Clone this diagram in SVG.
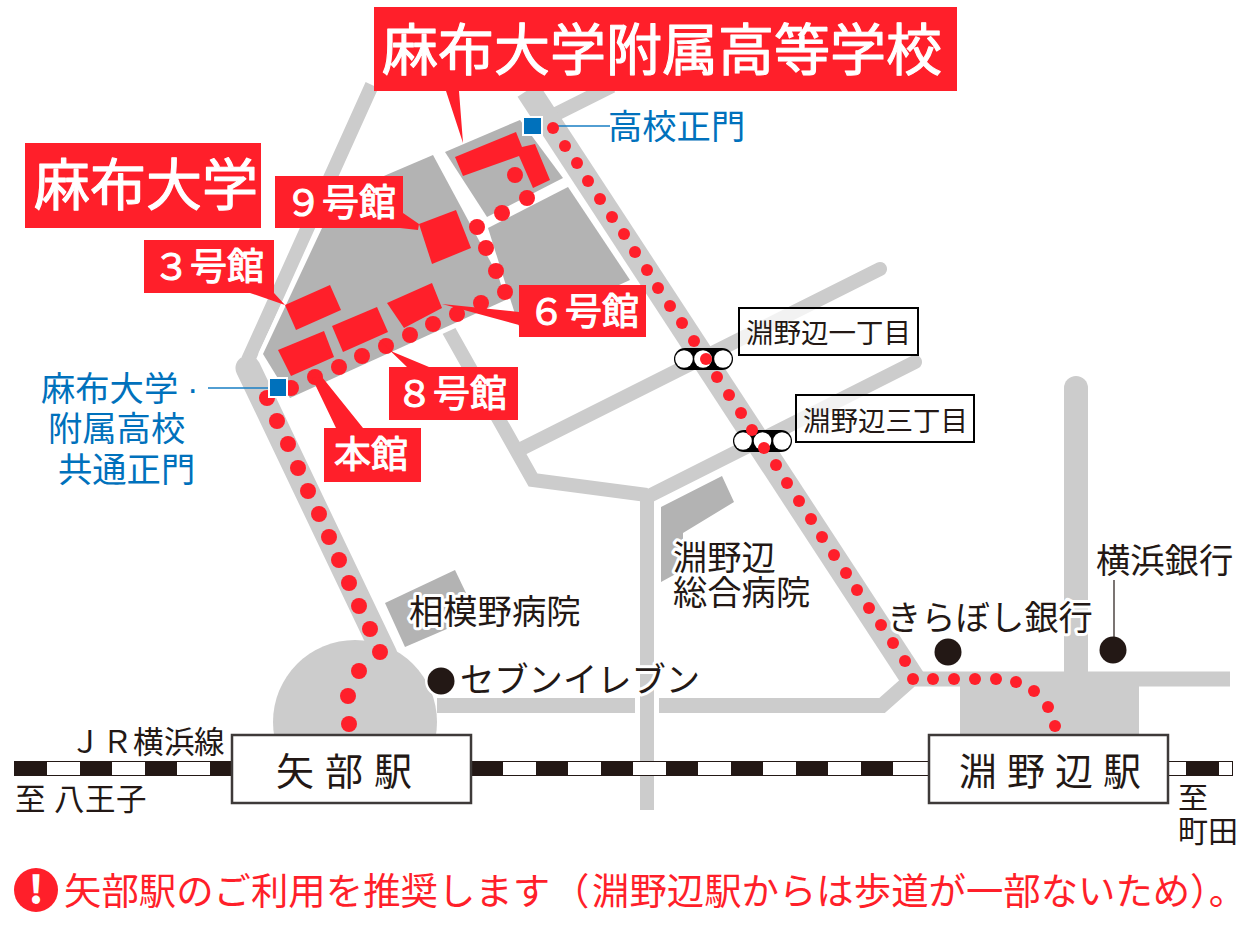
<svg xmlns="http://www.w3.org/2000/svg" width="1251" height="939" viewBox="0 0 1251 939">
<style>
text{font-family:"Noto Sans CJK JP","Noto Sans",sans-serif;fill:#231815}
.road{fill:none;stroke:#ccc;stroke-linejoin:miter}
.block{fill:#b3b3b3}
.red{fill:#ff1f2a}
.wt{fill:#fff;font-weight:400;stroke:#fff;stroke-width:1.1px;stroke-linejoin:round}
.blue{fill:#0071bc;font-size:34.3px}
.t34{font-size:34.3px}
.halo{paint-order:stroke;stroke:#fff;stroke-width:6px;stroke-linejoin:round}
.bluesq{fill:#0071bc;stroke:#fff;stroke-width:2}
.box{fill:#fff;fill-opacity:.75;stroke:#000;stroke-width:2}
.stn{fill:#fff;stroke:#3e3a39;stroke-width:2.5}
.d{fill:#ff1f2a}
.bk{fill:#231815}
.wh{fill:#fff}
</style>
<rect width="1251" height="939" fill="#fff"/>
<g id="roads">
<path class="road" stroke-width="14" stroke-linecap="round" d="M880 269L523 448"/>
<path class="road" stroke-width="14" stroke-linecap="round" d="M915 362L651 495"/>
<path class="road" stroke-width="14" d="M444 322L533 480L647 495M647 490V810"/>
<path class="road" stroke-width="15" d="M437 705.500H635M659 705.500H882L912 679H1230"/>
<path class="road" stroke-width="14" d="M248 360L372 85M548 118L612 86"/>
<path class="road" stroke-width="25" stroke-linejoin="round" stroke-linecap="round" d="M248 368L385 655"/>
<path class="road" stroke-width="25" d="M528 90L913 679"/>
<path class="road" stroke-width="24" stroke-linecap="round" d="M1076 388V680"/>
<circle cx="355" cy="722" r="82" fill="#ccc"/>
<rect x="960" y="680" width="179" height="60" fill="#ccc"/>
</g>
<g id="campus">
<path d="M263 354L337 196L433 155L510 298L292 398L272 370Z" fill="#fff" stroke="#fff" stroke-width="9" stroke-linejoin="round"/>
<path class="block" d="M263 354L337 196L433 155L510 298L290 398Z"/>
<path d="M445 152L520 120L563 178L487 217Z" fill="#fff" stroke="#fff" stroke-width="9"/>
<path class="block" d="M445 152L520 120L563 178L487 217Z"/>
<path d="M488 228L568 187L630 280L520 330Z" fill="#fff" stroke="#fff" stroke-width="9"/>
<path class="block" d="M488 228L568 187L630 280L520 330Z"/>
</g>
<g id="hospitals">
<path class="block" d="M385 603L455 570L477 616L405 647Z"/>
<path class="block" d="M661 507L722 476L734 502L683 533V570L661 582Z"/>
</g>
<g id="buildings">
<path class="red" d="M419 224L456 210L471 248L432 264Z"/>
<path class="red" d="M285 305L330 285L341 310L296 330Z"/>
<path class="red" d="M278 350L324 331L334 357L291 376Z"/>
<path class="red" d="M332 326L377 307L388 332L343 352Z"/>
<path class="red" d="M387 303L432 283L442 308L404 328Z"/>
<path class="red" d="M455 157L516 132L522 147L535 144L550 180L533 188L519 156L463 176Z"/>
</g>
<g id="track">
<rect x="14" y="761" width="1219" height="15" class="bk"/>
<rect x="47" y="762" width="33" height="13" class="wh"/><rect x="112" y="762" width="33" height="13" class="wh"/><rect x="177" y="762" width="33" height="13" class="wh"/>
<rect x="503" y="762" width="33" height="13" class="wh"/><rect x="568" y="762" width="33" height="13" class="wh"/><rect x="633" y="762" width="33" height="13" class="wh"/><rect x="698" y="762" width="33" height="13" class="wh"/><rect x="763" y="762" width="33" height="13" class="wh"/><rect x="828" y="762" width="33" height="13" class="wh"/><rect x="893" y="762" width="35" height="13" class="wh"/>
<rect x="1169" y="762" width="17" height="13" class="wh"/><rect x="1219" y="762" width="13" height="13" class="wh"/>
</g>
<g id="signals">
<rect x="674" y="348" width="59" height="22" rx="11" fill="#000"/><circle cx="684" cy="359" r="8.800" class="wh"/><circle cx="703" cy="359" r="8.800" class="wh"/><circle cx="723" cy="359" r="8.800" class="wh"/>
<rect x="733" y="430" width="59" height="22" rx="11" fill="#000"/><circle cx="743" cy="441" r="8.800" class="wh"/><circle cx="762.500" cy="441" r="8.800" class="wh"/><circle cx="782" cy="441" r="8.800" class="wh"/>
</g>
<g id="connectors">
<path d="M553 126H610M208 388H272" fill="none" stroke="#1a7fc4" stroke-width="1.4"/>
<g id="route-campus">
<circle class="d" cx="515" cy="175" r="8"/><circle class="d" cx="527" cy="198" r="8"/><circle class="d" cx="502" cy="213" r="8"/><circle class="d" cx="477" cy="227" r="8"/><circle class="d" cx="486" cy="248" r="8"/><circle class="d" cx="496" cy="271" r="8"/><circle class="d" cx="505" cy="292" r="8"/><circle class="d" cx="481" cy="303" r="8"/><circle class="d" cx="457" cy="314" r="8"/><circle class="d" cx="433" cy="324" r="8"/><circle class="d" cx="410" cy="335" r="8"/><circle class="d" cx="386" cy="346" r="8"/><circle class="d" cx="362" cy="356" r="8"/><circle class="d" cx="339" cy="367" r="8"/><circle class="d" cx="315" cy="377" r="8"/><circle class="d" cx="291" cy="388" r="8"/><circle class="d" cx="267" cy="398" r="8"/>
<circle class="d" cx="277" cy="421" r="8"/><circle class="d" cx="288" cy="444" r="8"/><circle class="d" cx="298" cy="468" r="8"/><circle class="d" cx="308" cy="491" r="8"/><circle class="d" cx="319" cy="514" r="8"/><circle class="d" cx="329" cy="537" r="8"/><circle class="d" cx="339" cy="560" r="8"/><circle class="d" cx="349" cy="583" r="8"/><circle class="d" cx="359" cy="606" r="8"/><circle class="d" cx="370" cy="629" r="8"/><circle class="d" cx="380" cy="652" r="8"/><circle class="d" cx="359" cy="671" r="8"/><circle class="d" cx="348" cy="696" r="8"/><circle class="d" cx="349" cy="724" r="8"/>
</g>
<g id="route-east">
<circle class="d" cx="553" cy="128" r="6"/><circle class="d" cx="565" cy="146" r="6"/><circle class="d" cx="577" cy="163" r="6"/><circle class="d" cx="588" cy="181" r="6"/><circle class="d" cx="600" cy="199" r="6"/><circle class="d" cx="612" cy="217" r="6"/><circle class="d" cx="624" cy="234" r="6"/><circle class="d" cx="635" cy="252" r="6"/><circle class="d" cx="647" cy="270" r="6"/><circle class="d" cx="658" cy="288" r="6"/><circle class="d" cx="670" cy="306" r="6"/><circle class="d" cx="682" cy="323" r="6"/><circle class="d" cx="694" cy="341" r="6"/><circle class="d" cx="706" cy="359" r="6"/><circle class="d" cx="717" cy="377" r="6"/><circle class="d" cx="729" cy="395" r="6"/><circle class="d" cx="741" cy="413" r="6"/><circle class="d" cx="752" cy="430" r="6"/><circle class="d" cx="764" cy="448" r="6"/><circle class="d" cx="776" cy="465" r="6"/><circle class="d" cx="787" cy="483" r="6"/><circle class="d" cx="799" cy="501" r="6"/><circle class="d" cx="811" cy="519" r="6"/><circle class="d" cx="822" cy="537" r="6"/><circle class="d" cx="834" cy="555" r="6"/><circle class="d" cx="846" cy="573" r="6"/><circle class="d" cx="857" cy="590" r="6"/><circle class="d" cx="869" cy="608" r="6"/><circle class="d" cx="881" cy="625" r="6"/><circle class="d" cx="893" cy="643" r="6"/><circle class="d" cx="905" cy="661" r="6"/><circle class="d" cx="913" cy="679" r="6"/><circle class="d" cx="933" cy="679" r="6"/><circle class="d" cx="954" cy="679" r="6"/><circle class="d" cx="975" cy="679" r="6"/><circle class="d" cx="996" cy="679" r="6"/><circle class="d" cx="1016" cy="682" r="6"/><circle class="d" cx="1034" cy="691" r="6"/><circle class="d" cx="1048" cy="707" r="6"/><circle class="d" cx="1055" cy="726" r="6"/>
</g>
</g>
<g id="gate-high"><rect class="bluesq" x="523" y="117" width="19" height="18"/><text class="blue" x="608" y="139">高校正門</text></g>
<g id="gate-common"><rect class="bluesq" x="269" y="378" width="18" height="19"/>
<text class="blue" x="41" y="401">麻布大学<tspan x="187" font-family="Liberation Sans">·</tspan></text><text class="blue" x="48" y="441">附属高校</text><text class="blue" x="58" y="482">共通正門</text></g>
<g id="label-school"><path class="red" d="M374 7H957V91H459L463 143L446 91H374Z"/><text class="wt" x="382" y="70" font-size="56">麻布大学附属高等学校</text></g>
<g id="label-univ"><rect class="red" x="25" y="143" width="236" height="85"/><text class="wt" x="34" y="205" font-size="56">麻布大学</text></g>
<g id="label-9"><path class="red" d="M275 176H403V213L419 224L418 230L400 228H275Z"/><text class="wt" x="285" y="216" font-size="37">９号館</text></g>
<g id="label-3"><path class="red" d="M144 240H274V293L285 305L250 293H144Z"/><text class="wt" x="153" y="280" font-size="37">３号館</text></g>
<g id="label-6"><path class="red" d="M519 285H646V337H519V325L442 304L519 312Z"/><text class="wt" x="528" y="325" font-size="37">６号館</text></g>
<g id="label-8"><path class="red" d="M389 367H407L377 338L393 352L429 367H518V420H389Z"/><text class="wt" x="396" y="407" font-size="37">８号館</text></g>
<g id="label-main"><path class="red" d="M312 378L322 377L363 428H421V482H324V428H336Z"/><text class="wt" x="334" y="468" font-size="37">本館</text></g>
<g id="sig-1"><rect class="box" x="739" y="308" width="179" height="47"/><text x="746" y="343" font-size="27.500">淵野辺一丁目</text></g>
<g id="sig-3"><rect class="box" x="796" y="395" width="178" height="47"/><text x="803" y="431" font-size="27.500">淵野辺三丁目</text></g>
<g id="landmark-sagamino"><text class="t34 halo" x="409" y="624">相模野病院</text></g>
<g id="landmark-fuchinobe-hosp"><text class="t34 halo" x="673" y="570">淵野辺</text><text class="t34 halo" x="673" y="605">総合病院</text></g>
<g id="landmark-711"><circle cx="441" cy="681" r="16" fill="#fff"/><circle cx="441" cy="681" r="13.500" class="bk"/><text class="t34 halo" x="460" y="692">セブンイレブン</text></g>
<g id="landmark-kiraboshi"><circle cx="948" cy="652" r="13.500" class="bk"/><text class="t34 halo" x="887" y="630">きらぼし銀行</text></g>
<g id="landmark-yokohama"><path d="M1114 580V640" stroke="#231815" stroke-width="1.2"/><circle cx="1113" cy="650" r="13.500" class="bk"/><text class="t34 halo" x="1096" y="573">横浜銀行</text></g>
<g id="station-yabe"><rect class="stn" x="232" y="735" width="239" height="68"/><text x="276" y="785" font-size="38" letter-spacing="11">矢部駅</text></g>
<g id="station-fuchinobe"><rect class="stn" x="929" y="735" width="239" height="68"/><text x="959" y="785" font-size="38" letter-spacing="10">淵野辺駅</text></g>
<g id="rail-labels"><text x="70 102 133 164 194" y="753" font-size="30.500">ＪＲ横浜線</text><text x="15 54 85 116" y="810" font-size="30.500">至八王子</text><text x="1178" y="808" font-size="30">至</text><text x="1178" y="842" font-size="30">町田</text></g>
<g id="notice"><circle cx="36" cy="890" r="22" class="red"/><text x="36" y="904" font-size="38" font-weight="900" text-anchor="middle" style="fill:#fff">!</text><text y="905" font-size="37.400" style="fill:#ff1f2a"><tspan x="64">矢部駅のご利用を推奨します</tspan><tspan x="552">（</tspan><tspan x="592">淵野辺駅からは歩道が一部ないため</tspan><tspan x="1190">）。</tspan></text></g>
</svg>
